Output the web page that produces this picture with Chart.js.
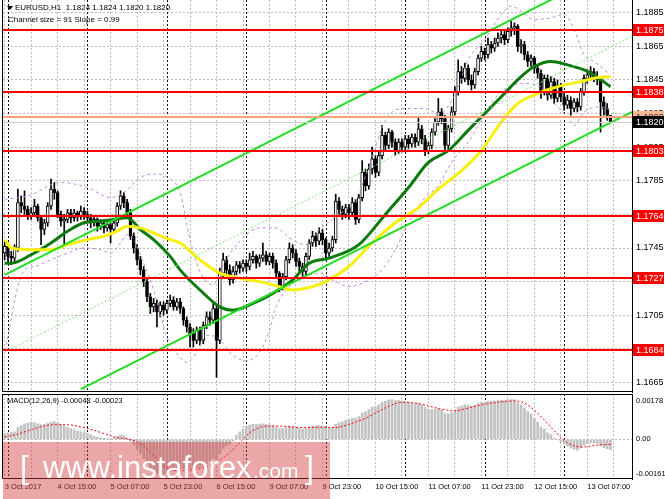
<!DOCTYPE html>
<html>
<head>
<meta charset="utf-8">
<title>EURUSD H1</title>
<script src="https://cdn.jsdelivr.net/npm/chart.js@4.4.1/dist/chart.umd.min.js"></script>
<style>
  body { margin: 0; background: #fff; }
  #wrap { position: relative; width: 665px; height: 499px; overflow: hidden; background: #fff;
          font-family: "Liberation Sans", Arial, sans-serif; }
  canvas { position: absolute; left: 0; }
  #price { top: 0; }
  #macd { top: 393px; }
  .lbl { position: absolute; font-size: 8px; line-height: 9px; color: #000; white-space: pre; }
  .tri { position: absolute; left: 7px; top: 6px; width: 0; height: 0;
         border-left: 3px solid transparent; border-right: 3px solid transparent; border-top: 4px solid #000; }
  #stamp { position: absolute; left: 3px; top: 442px; width: 327px; height: 57px;
           background: rgba(210, 60, 60, 0.45); color: #fff; font-family: "Liberation Sans", Arial, sans-serif; font-weight: 400; }
  #stamp span { position: absolute; line-height: 1; white-space: pre; }
</style>
</head>
<body>
<div id="wrap">
  <canvas id="price" width="665" height="393"></canvas>
  <canvas id="macd" width="665" height="106"></canvas>
  <div class="tri"></div>
  <div class="lbl" style="left:15px;top:3px;">EURUSD,H1  1.1824 1.1824 1.1820 1.1820</div>
  <div class="lbl" style="left:8px;top:15px;">Channel size = 91 Slope = 0.99</div>
  <div class="lbl" style="left:7px;top:396px;font-size:7.5px;">MACD(12,26,9) -0.00048 -0.00023</div>
  <div id="stamp">
    <span style="left:17px;top:9px;font-size:32px;">[</span>
    <span style="left:40px;top:10px;font-size:31px;">www.instaforex</span>
    <span style="left:250px;top:18px;font-size:21px;">.com</span>
    <span style="left:302px;top:9px;font-size:32px;">]</span>
  </div>
</div>
<script>
// hourly bars, 3 Oct 23:00 .. 13 Oct 14:00
const firstOpen = 1.1742;
const closes = [
  1.1746,1.1740,1.1739,1.1745,1.1772,1.1770,1.1768,1.1764,1.1766,1.1770,
  1.1763,1.1756,1.1760,1.1770,1.1780,1.1778,1.1765,1.1761,1.1762,1.1766,
  1.1763,1.1766,1.1764,1.1767,1.1765,1.1763,1.1760,1.1762,1.1758,1.1760,
  1.1757,1.1759,1.1756,1.1760,1.1770,1.1776,1.1772,1.1766,1.1752,1.1745,
  1.1738,1.1732,1.1725,1.1716,1.1710,1.1712,1.1707,1.1711,1.1708,1.1712,
  1.1714,1.1710,1.1713,1.1709,1.1702,1.1698,1.1694,1.1690,1.1696,1.1690,
  1.1699,1.1704,1.1702,1.1709,1.1690,1.1730,1.1738,1.1732,1.1726,1.1731,
  1.1735,1.1733,1.1736,1.1734,1.1738,1.1740,1.1736,1.1739,1.1741,1.1737,
  1.1740,1.1736,1.1730,1.1722,1.1728,1.1738,1.1745,1.1742,1.1737,1.1734,
  1.1731,1.1740,1.1748,1.1752,1.1749,1.1754,1.1750,1.1742,1.1745,1.1750,
  1.1773,1.1768,1.1765,1.1769,1.1766,1.1772,1.1762,1.1775,1.1790,1.1782,
  1.1792,1.1798,1.1790,1.1800,1.1812,1.1806,1.1814,1.1808,1.1803,1.1808,
  1.1805,1.1810,1.1807,1.1811,1.1808,1.1816,1.1810,1.1803,1.1806,1.1814,
  1.1820,1.1826,1.1822,1.1806,1.1816,1.1826,1.1838,1.1850,1.1846,1.1852,
  1.1845,1.1842,1.1850,1.1858,1.1862,1.1860,1.1866,1.1864,1.1867,1.1870,
  1.1872,1.1869,1.1874,1.1876,1.1877,1.1865,1.1866,1.1860,1.1856,1.1858,
  1.1852,1.1849,1.1838,1.1846,1.1836,1.1844,1.1834,1.1842,1.1835,1.1830,
  1.1833,1.1828,1.1832,1.1829,1.1838,1.1846,1.1848,1.1850,1.1847,1.1845,
  1.1832,1.1828,1.1824,1.1820
];
const highs = [
  1.1749,1.1748,1.1743,1.1747,1.1780,1.1776,1.1779,1.1770,1.1769,1.1774,
  1.1771,1.1764,1.1762,1.1772,1.1786,1.1784,1.1779,1.1767,1.1765,1.1768,
  1.1768,1.1768,1.1767,1.1770,1.1769,1.1767,1.1765,1.1764,1.1763,1.1762,
  1.1762,1.1761,1.1760,1.1762,1.1772,1.1779,1.1778,1.1774,1.1768,1.1754,
  1.1747,1.1740,1.1734,1.1727,1.1718,1.1715,1.1714,1.1713,1.1713,1.1714,
  1.1717,1.1716,1.1715,1.1715,1.1710,1.1704,1.1700,1.1697,1.1698,1.1698,
  1.1701,1.1707,1.1707,1.1712,1.1711,1.1733,1.1742,1.1740,1.1735,1.1734,
  1.1737,1.1737,1.1738,1.1738,1.1742,1.1743,1.1741,1.1741,1.1748,1.1743,
  1.1742,1.1742,1.1738,1.1731,1.1730,1.1740,1.1748,1.1747,1.1744,1.1739,
  1.1736,1.1742,1.1750,1.1755,1.1754,1.1757,1.1756,1.1751,1.1748,1.1752,
  1.1777,1.1775,1.1770,1.1771,1.1771,1.1775,1.1774,1.1777,1.1797,1.1792,
  1.1795,1.1805,1.1800,1.1803,1.1818,1.1814,1.1816,1.1815,1.1810,1.1810,
  1.1810,1.1812,1.1812,1.1813,1.1813,1.1823,1.1818,1.1812,1.1808,1.1816,
  1.1822,1.1834,1.1828,1.1824,1.1818,1.1829,1.1841,1.1857,1.1853,1.1855,
  1.1854,1.1848,1.1852,1.1860,1.1865,1.1864,1.1870,1.1868,1.1870,1.1873,
  1.1875,1.1874,1.1876,1.1880,1.1879,1.1878,1.1869,1.1868,1.1862,1.1860,
  1.1859,1.1854,1.1851,1.1848,1.1848,1.1847,1.1846,1.1845,1.1843,1.1837,
  1.1836,1.1835,1.1834,1.1834,1.1840,1.1848,1.1851,1.1853,1.1852,1.1850,
  1.1847,1.1835,1.1831,1.1824
];
const lows = [
  1.1738,1.1737,1.1735,1.1737,1.1743,1.1766,1.1765,1.1762,1.1762,1.1764,
  1.1761,1.1747,1.1753,1.1758,1.1768,1.1774,1.1763,1.1758,1.1747,1.1760,
  1.1760,1.1761,1.1761,1.1762,1.1762,1.1760,1.1757,1.1758,1.1755,1.1756,
  1.1754,1.1755,1.1748,1.1754,1.1758,1.1768,1.1769,1.1763,1.1750,1.1742,
  1.1735,1.1729,1.1722,1.1713,1.1706,1.1707,1.1698,1.1704,1.1705,1.1706,
  1.1710,1.1708,1.1708,1.1706,1.1699,1.1695,1.1686,1.1686,1.1688,1.1687,
  1.1688,1.1697,1.1699,1.1700,1.1668,1.1688,1.1727,1.1729,1.1723,1.1724,
  1.1729,1.1730,1.1731,1.1731,1.1732,1.1736,1.1733,1.1734,1.1737,1.1735,
  1.1735,1.1733,1.1727,1.1719,1.1720,1.1726,1.1736,1.1739,1.1734,1.1730,
  1.1727,1.1729,1.1738,1.1746,1.1746,1.1747,1.1747,1.1738,1.1740,1.1743,
  1.1748,1.1765,1.1762,1.1763,1.1762,1.1764,1.1759,1.1760,1.1773,1.1779,
  1.1780,1.1789,1.1787,1.1788,1.1798,1.1803,1.1804,1.1805,1.1800,1.1801,
  1.1802,1.1803,1.1804,1.1805,1.1805,1.1806,1.1807,1.1800,1.1801,1.1804,
  1.1812,1.1818,1.1819,1.1803,1.1804,1.1814,1.1824,1.1836,1.1843,1.1844,
  1.1842,1.1839,1.1840,1.1848,1.1856,1.1857,1.1858,1.1861,1.1862,1.1865,
  1.1867,1.1866,1.1867,1.1871,1.1872,1.1862,1.1861,1.1857,1.1853,1.1853,
  1.1849,1.1846,1.1834,1.1836,1.1833,1.1834,1.1831,1.1832,1.1832,1.1827,
  1.1828,1.1824,1.1826,1.1826,1.1827,1.1836,1.1843,1.1845,1.1844,1.1842,
  1.1814,1.1824,1.1821,1.1820
];

// moving averages and bands, read at sample bars
const greenIdx = [0,2,8,14,19,24,29,33,37,41,45,50,53,59,65,69,75,81,87,92,98,107,115,122,128,134,140,144,150,156,160,165,170,175,178,183];
const greenVal = [1.1736,1.1736,1.1741,1.1748,1.1755,1.1760,1.1761,1.1762,1.1763,1.1756,1.1750,1.1740,1.1732,1.1720,1.1710,1.1708,1.1712,1.1718,1.1726,1.1736,1.1739,1.1747,1.1765,1.1781,1.1796,1.1803,1.1815,1.1823,1.1835,1.1847,1.1853,1.1856,1.1854,1.1851,1.1848,1.1841];
const yellowIdx = [0,2,8,14,19,25,30,34,37,41,46,50,53,59,65,71,77,83,87,91,97,104,111,118,125,131,138,144,150,155,161,167,174,178,183];
const yellowVal = [1.1750,1.1745,1.1744,1.1744,1.1747,1.1750,1.1752,1.1755,1.1758,1.1757,1.1753,1.1750,1.1748,1.1738,1.1730,1.1727,1.1725,1.1722,1.1720,1.1721,1.1725,1.1734,1.1748,1.1760,1.1769,1.1780,1.1791,1.1803,1.1820,1.1831,1.1837,1.1841,1.1844,1.1846,1.1847];
const upperIdx = [0,7,17,25,32,36,41,45,50,53,56,59,63,66,71,77,82,86,91,95,101,106,110,115,121,127,131,136,140,145,150,153,156,160,165,169,172,175,178,183];
const upperVal = [1.1774,1.1776,1.1784,1.1781,1.1775,1.1778,1.1787,1.1789,1.1786,1.1778,1.1750,1.1731,1.1723,1.1735,1.1749,1.1757,1.1757,1.1751,1.1747,1.1756,1.1765,1.1774,1.1793,1.1821,1.1828,1.1828,1.1825,1.1836,1.1857,1.1869,1.1884,1.1889,1.1886,1.1881,1.1882,1.1884,1.1875,1.1860,1.1856,1.1848];
const lowerIdx = [0,1,3,6,9,14,19,24,29,32,35,37,39,42,45,47,49,53,55,58,61,64,69,73,77,80,82,85,89,95,100,104,108,114,118,122,127,131,135,140,144,147,150,156,162,166,170,172,175,180,183];
const lowerVal = [1.1684,1.1692,1.1714,1.1732,1.1734,1.1738,1.1742,1.1745,1.1744,1.1742,1.1748,1.1753,1.1750,1.1736,1.1720,1.1706,1.1692,1.1680,1.1677,1.1683,1.1693,1.1692,1.1681,1.1678,1.1683,1.1696,1.1710,1.1720,1.1726,1.1730,1.1725,1.1722,1.1724,1.1732,1.1744,1.1760,1.1775,1.1782,1.1796,1.1808,1.1821,1.1831,1.1838,1.1843,1.1841,1.1831,1.1823,1.1818,1.1826,1.1829,1.1827];

// regression channel end points
const chanX = [0, 189.5];
const chanUpper = [1.1729, 1.1917];
const chanMid = [1.1683, 1.1871];
const chanLowX = [23, 189.5];
const chanLower = [1.1661, 1.1826];

// horizontal levels
const levels = [1.1875, 1.1838, 1.1803, 1.1764, 1.1727, 1.1684];
const askLevel = 1.1823;
const bidLevel = 1.1820;

// MACD
const macdHist = [
  0.00027,0.00030,0.00033,0.00035,0.00055,0.00065,0.00072,0.00076,0.00080,0.00078,
  0.00072,0.00068,0.00070,0.00074,0.00080,0.00082,0.00078,0.00070,0.00062,0.00056,
  0.00050,0.00045,0.00040,0.00036,0.00032,0.00028,0.00022,0.00015,0.00010,0.00008,
  0.00005,0.00004,0.00003,0.00008,0.00014,0.00020,0.00018,0.00008,-0.00008,-0.00025,
  -0.00045,-0.00065,-0.00088,-0.00112,-0.00135,-0.00148,-0.00158,-0.00160,-0.00158,-0.00155,
  -0.00150,-0.00146,-0.00140,-0.00136,-0.00136,-0.00136,-0.00136,-0.00136,-0.00130,-0.00128,
  -0.00120,-0.00110,-0.00100,-0.00088,-0.00094,-0.00066,-0.00042,-0.00030,-0.00022,-0.00008,
  0.00020,0.00035,0.00048,0.00058,0.00066,0.00070,0.00070,0.00071,0.00072,0.00070,
  0.00068,0.00064,0.00058,0.00050,0.00050,0.00055,0.00060,0.00060,0.00056,0.00052,
  0.00048,0.00052,0.00058,0.00062,0.00062,0.00064,0.00062,0.00055,0.00052,0.00055,
  0.00070,0.00078,0.00082,0.00088,0.00092,0.00098,0.00098,0.00106,0.00122,0.00128,
  0.00138,0.00150,0.00152,0.00160,0.00172,0.00176,0.00182,0.00184,0.00180,0.00180,
  0.00178,0.00176,0.00172,0.00170,0.00166,0.00168,0.00160,0.00148,0.00140,0.00138,
  0.00140,0.00142,0.00136,0.00120,0.00118,0.00124,0.00136,0.00150,0.00154,0.00160,
  0.00158,0.00154,0.00158,0.00166,0.00172,0.00172,0.00176,0.00176,0.00178,0.00180,
  0.00182,0.00180,0.00182,0.00184,0.00184,0.00170,0.00160,0.00146,0.00130,0.00118,
  0.00098,0.00080,0.00058,0.00048,0.00030,0.00022,0.00006,0.00000,-0.00010,-0.00022,
  -0.00030,-0.00040,-0.00046,-0.00050,-0.00040,-0.00028,-0.00020,-0.00015,-0.00016,-0.00018,
  -0.00030,-0.00038,-0.00044,-0.00048
];
const sigIdx = [0,4,9,12,15,19,23,27,31,34,37,40,42,44,46,48,50,53,56,59,62,64,66,68,70,72,74,77,80,85,89,95,100,104,109,113,117,120,124,128,132,136,140,144,149,154,157,160,163,166,169,172,175,178,181,183];
const sigVal = [0.00012,0.00025,0.00050,0.00062,0.00068,0.00068,0.00058,0.00042,0.00022,0.00008,0.00002,-0.00010,-0.00030,-0.00060,-0.00090,-0.00120,-0.00138,-0.00145,-0.00142,-0.00135,-0.00120,-0.00105,-0.00085,-0.00060,-0.00030,0.00000,0.00030,0.00055,0.00062,0.00060,0.00055,0.00056,0.00055,0.00070,0.00098,0.00130,0.00160,0.00172,0.00168,0.00155,0.00140,0.00132,0.00145,0.00160,0.00172,0.00178,0.00168,0.00135,0.00090,0.00040,-0.00005,-0.00030,-0.00035,-0.00028,-0.00024,-0.00023];

// axes
const xMin = -0.5, xMax = 189.5;
const priceMin = 1.16593, priceMax = 1.18926;
const priceTicks = [1.1665,1.1685,1.1705,1.1725,1.1745,1.1765,1.1785,1.1805,1.1825,1.1845,1.1865,1.1885];
const macdMin = -0.00183, macdMax = 0.0021;
const macdTicks = [-0.00161, 0, 0.00178];
const gridIdx = [0,8,16,24,32,40,48,56,64,72,80,88,96,104,112,120,128,136,144,152,160,168,176,184];
const labelIdx = [0,16,32,48,64,80,96,112,128,144,160,176];
const timeLabels = ['3 Oct 2017','4 Oct 15:00','5 Oct 07:00','5 Oct 23:00','6 Oct 15:00','9 Oct 07:00',
                    '9 Oct 23:00','10 Oct 15:00','11 Oct 07:00','11 Oct 23:00','12 Oct 15:00','13 Oct 07:00'];
const daySeparators = [1, 25, 49, 73, 97, 121, 145, 169];

const FONT = '"Liberation Sans", Arial, sans-serif';
Chart.defaults.font.family = FONT;
Chart.defaults.animation = false;

const opens = closes.map((c, i) => i === 0 ? firstOpen : closes[i - 1]);
const wickData = closes.map((c, i) => ({x: i, y: [lows[i], highs[i]]}));
const bodyData = closes.map((c, i) => ({x: i, y: [Math.min(opens[i], c), Math.max(opens[i], c)]}));
const bodyFill = closes.map((c, i) => c >= opens[i] ? '#ffffff' : '#000000');
const pts = (xs, ys) => xs.map((x, k) => ({x: x, y: ys[k]}));

const dayLines = {
    id: 'dayLines',
    beforeDatasetsDraw(chart) {
        const {ctx, chartArea: a} = chart;
        const xs = chart.scales.x;
        ctx.save();
        ctx.strokeStyle = '#111';
        ctx.lineWidth = 1;
        ctx.setLineDash([2, 2]);
        daySeparators.forEach(i => {
            const px = Math.round(xs.getPixelForValue(i)) + 0.5;
            ctx.beginPath();
            ctx.moveTo(px, a.top);
            ctx.lineTo(px, a.bottom);
            ctx.stroke();
        });
        ctx.restore();
    }
};

const frame = {
    id: 'frame',
    afterDraw(chart, args, opts) {
        const {ctx, chartArea: a} = chart;
        ctx.save();
        ctx.strokeStyle = '#000';
        ctx.lineWidth = 1;
        ctx.beginPath();
        ctx.moveTo(a.left - 0.5, a.top);
        ctx.lineTo(a.left - 0.5, a.bottom - 0.5);
        ctx.lineTo(a.right + 0.5, a.bottom - 0.5);
        ctx.lineTo(a.right + 0.5, a.top);
        if (opts.top) {
            ctx.moveTo(a.left - 0.5, a.top + 0.5);
            ctx.lineTo(a.right + 0.5, a.top + 0.5);
        }
        ctx.stroke();
        ctx.restore();
    }
};

function hLine(chart, v, color, width) {
    const {ctx, chartArea: a, scales: {y}} = chart;
    const py = Math.round(y.getPixelForValue(v)) + (width % 2 ? 0.5 : 0);
    ctx.strokeStyle = color;
    ctx.lineWidth = width;
    ctx.beginPath();
    ctx.moveTo(a.left, py);
    ctx.lineTo(a.right, py);
    ctx.stroke();
}

function tag(chart, v, fill, ink) {
    const {ctx, chartArea: a, scales: {y}} = chart;
    const py = Math.round(y.getPixelForValue(v));
    ctx.fillStyle = fill;
    ctx.fillRect(a.right + 1, py - 6, 31, 12);
    ctx.fillStyle = ink;
    ctx.font = '9px ' + FONT;
    ctx.textAlign = 'left';
    ctx.textBaseline = 'middle';
    ctx.fillText(v.toFixed(4), a.right + 4, py + 0.5);
}

const levelMarks = {
    id: 'levelMarks',
    afterDatasetsDraw(chart) {
        chart.ctx.save();
        hLine(chart, askLevel, '#ffa27a', 2);
        hLine(chart, bidLevel, '#cfcfcf', 1);
        levels.forEach(v => hLine(chart, v, '#ff0000', 2));
        chart.ctx.restore();
    },
    afterDraw(chart) {
        chart.ctx.save();
        levels.forEach(v => tag(chart, v, '#ff0000', '#ffffff'));
        tag(chart, askLevel, '#ffb592', '#333333');
        tag(chart, bidLevel, '#000000', '#ffffff');
        chart.ctx.restore();
    }
};

function xScale(showLabels) {
    return {
        type: 'linear', min: xMin, max: xMax, offset: false,
        afterBuildTicks: s => { s.ticks = gridIdx.map(v => ({value: v})); },
        afterFit: s => { s.paddingLeft = 0; s.paddingRight = 0; },
        ticks: {
            display: showLabels, autoSkip: false, maxRotation: 0, align: 'start', padding: 3,
            color: '#000', font: {size: 7.5},
            callback: v => { const k = labelIdx.indexOf(v); return k >= 0 ? timeLabels[k] : ''; }
        },
        grid: {color: '#bdbdbd', drawTicks: false, offset: false},
        border: {display: false, dash: [2, 2]}
    };
}

new Chart(document.getElementById('price'), {
    type: 'bar',
    data: {
        datasets: [
            {type: 'line', data: pts(chanX, chanUpper), borderColor: '#22dd22', borderWidth: 2, pointRadius: 0, order: 1},
            {type: 'line', data: pts(chanLowX, chanLower), borderColor: '#22dd22', borderWidth: 2, pointRadius: 0, order: 1},
            {type: 'line', data: pts(chanX, chanMid), borderColor: '#77ee77', borderWidth: 1, borderDash: [2, 2], pointRadius: 0, order: 1},
            {type: 'line', data: pts(yellowIdx, yellowVal), borderColor: '#f7ef12', borderWidth: 3, pointRadius: 0, cubicInterpolationMode: 'monotone', order: 2},
            {type: 'line', data: pts(greenIdx, greenVal), borderColor: '#0c7a0c', borderWidth: 3, pointRadius: 0, cubicInterpolationMode: 'monotone', order: 2},
            {type: 'line', data: pts(upperIdx, upperVal), borderColor: '#c48ae0', borderWidth: 1, borderDash: [3, 3], pointRadius: 0, cubicInterpolationMode: 'monotone', order: 3},
            {type: 'line', data: pts(lowerIdx, lowerVal), borderColor: '#c48ae0', borderWidth: 1, borderDash: [3, 3], pointRadius: 0, cubicInterpolationMode: 'monotone', order: 3},
            {type: 'bar', data: bodyData, backgroundColor: bodyFill, borderColor: '#000', borderWidth: 1,
             borderSkipped: false, barThickness: 3, grouped: false, minBarLength: 1, order: 5},
            {type: 'bar', data: wickData, backgroundColor: '#000', barThickness: 1, grouped: false, order: 6}
        ]
    },
    options: {
        responsive: false,
        animation: false,
        layout: {padding: {left: 3, top: 0, right: 0, bottom: 1}},
        plugins: {legend: {display: false}, tooltip: {enabled: false}, frame: {top: false}},
        scales: {
            x: xScale(false),
            y: {
                position: 'right', min: priceMin, max: priceMax,
                afterBuildTicks: s => { s.ticks = priceTicks.map(v => ({value: v})); },
                afterFit: s => { s.width = 33; s.paddingTop = 0; s.paddingBottom = 0; },
                ticks: {color: '#000', font: {size: 9}, padding: 4, callback: v => v.toFixed(4)},
                grid: {color: '#bdbdbd', drawTicks: false},
                border: {display: true, color: '#000', dash: [2, 2]}
            }
        }
    },
    plugins: [dayLines, levelMarks, frame]
});

new Chart(document.getElementById('macd'), {
    type: 'bar',
    data: {
        datasets: [
            {type: 'line', data: pts(sigIdx, sigVal), borderColor: '#ff0000', borderWidth: 1, borderDash: [2, 2],
             pointRadius: 0, cubicInterpolationMode: 'monotone', order: 1},
            {type: 'bar', data: macdHist.map((v, i) => ({x: i, y: v})), backgroundColor: '#c2c2c2', barThickness: 2, order: 2}
        ]
    },
    options: {
        responsive: false,
        animation: false,
        layout: {padding: {left: 3, top: 1, right: 0, bottom: 5}},
        plugins: {legend: {display: false}, tooltip: {enabled: false}, frame: {top: true}},
        scales: {
            x: xScale(true),
            y: {
                position: 'right', min: macdMin, max: macdMax,
                afterBuildTicks: s => { s.ticks = macdTicks.map(v => ({value: v})); },
                afterFit: s => { s.width = 33; s.paddingTop = 0; s.paddingBottom = 0; },
                ticks: {color: '#000', font: {size: 7.5}, padding: 4, callback: v => v === 0 ? '0.00' : v.toFixed(5)},
                grid: {color: c => (c.tick && c.tick.value === 0) ? '#bdbdbd' : 'rgba(0,0,0,0)', drawTicks: false},
                border: {display: true, color: '#000', dash: [2, 2]}
            }
        }
    },
    plugins: [dayLines, frame]
});
</script>
</body>
</html>
